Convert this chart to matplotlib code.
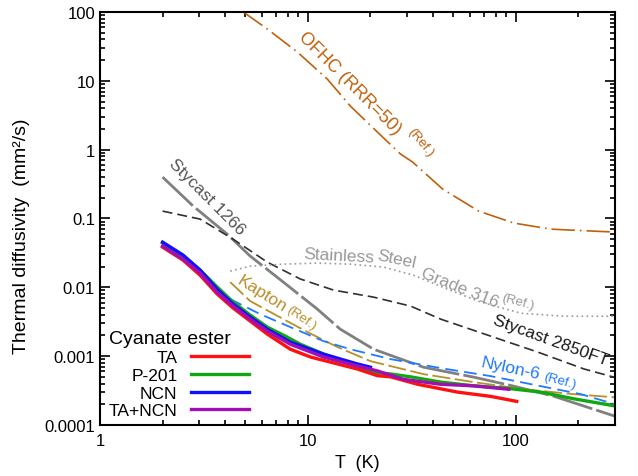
import matplotlib
matplotlib.use("Agg")
import matplotlib.pyplot as plt
from matplotlib.ticker import FixedLocator, LogLocator, NullFormatter
from matplotlib.transforms import offset_copy

plt.rcParams['font.family'] = ['Liberation Sans', 'DejaVu Sans']

# ---------------- data ----------------
# Cyanate ester samples
ta_T = [2.0, 2.51, 3.03, 3.66, 4.37, 5.28, 6.38, 8.23, 10.3, 12.8, 17.3, 21.6, 25.0, 33.7, 52.5, 75.8, 101]
ta_D = [0.0384, 0.0248, 0.0150, 0.0080, 0.00499, 0.00323, 0.00209, 0.00126, 0.00097, 0.00082, 0.00065,
        0.00052, 0.00050, 0.00039, 0.00030, 0.00026, 0.00022]

p201_T = [2.0, 2.51, 3.03, 3.66, 4.37, 5.28, 6.38, 7.62, 9.20, 11.9, 17.3, 20.7, 25.0, 31.2, 43.5, 62.8,
          91.5, 132, 190, 297]
p201_D = [0.0439, 0.0284, 0.0178, 0.0101, 0.0061, 0.00395, 0.00264, 0.00202, 0.00149, 0.00107, 0.00072,
          0.00058, 0.00055, 0.00050, 0.00042, 0.00037, 0.00034, 0.00030, 0.00024, 0.00019]

ncn_T = [2.0, 2.51, 3.03, 3.66, 4.37, 5.28, 6.38, 8.23, 11.9, 17.3, 20.0]
ncn_D = [0.0454, 0.0294, 0.0178, 0.0094, 0.0057, 0.00369, 0.00247, 0.00160, 0.00107, 0.00077, 0.00069]

tancn_T = [2.0, 2.51, 3.03, 3.66, 4.37, 5.28, 6.38, 8.23, 11.9, 17.3, 21.6, 28.8, 43.5, 62.8, 92.5]
tancn_D = [0.0397, 0.0257, 0.0161, 0.0085, 0.00533, 0.00345, 0.00231, 0.00149, 0.00097, 0.00072, 0.00061,
           0.00046, 0.00039, 0.00037, 0.00033]

# Reference materials
ofhc_T = [4.89, 6.38, 8.90, 12.4, 16.0, 21.6, 27.9, 31.9, 44.5, 66.3, 97.8, 147.5, 300]
ofhc_D = [100, 56.6, 26.2, 10.6, 4.30, 1.80, 0.863, 0.66, 0.267, 0.128, 0.0858, 0.070, 0.0634]

st1266_T = [2.0, 2.81, 4.09, 5.28, 7.62, 11.1, 14.3, 20.7, 36.0, 62.8, 97.8, 152, 300]
st1266_D = [0.40, 0.151, 0.0593, 0.0284, 0.0119, 0.00482, 0.00247, 0.00126, 0.00069, 0.000495,
            0.000366, 0.000262, 0.000134]

st2850_T = [2.0, 3.03, 4.37, 6.38, 9.20, 13.3, 20.7, 31.2, 43.5, 75.8, 128, 213, 300]
st2850_D = [0.128, 0.098, 0.050, 0.0232, 0.0132, 0.0091, 0.0072, 0.00533, 0.00345, 0.00195, 0.00114,
            0.00065, 0.00049]

ss316_T = [4.23, 5.28, 7.62, 11.1, 16.0, 23.1, 32.2, 47.0, 67.8, 106, 170, 300]
ss316_D = [0.0172, 0.0203, 0.0217, 0.0225, 0.0217, 0.0197, 0.0150, 0.0094, 0.0061, 0.0042, 0.0038, 0.0038]

kapton_T = [4.23, 5.28, 7.62, 9.95, 13.9, 20.0, 36.0, 62.8, 109, 190, 300]
kapton_D = [0.0119, 0.0063, 0.00345, 0.00224, 0.00135, 0.000846, 0.000547, 0.000419, 0.000331,
            0.00028, 0.000252]

nylon_T = [4.23, 5.90, 8.24, 11.9, 16.0, 25.0, 43.5, 75.8, 132, 206, 300]
nylon_D = [0.00673, 0.00407, 0.00264, 0.00165, 0.00126, 0.000904, 0.00067, 0.000512, 0.000366,
           0.00028, 0.0002]

x_ticks = [1, 10, 100]
x_ticklabels = ["1", "10", "100"]
y_ticks = [0.0001, 0.001, 0.01, 0.1, 1, 10, 100]
y_ticklabels = ["0.0001", "0.001", "0.01", "0.1", "1", "10", "100"]

# ---------------- figure ----------------
fig = plt.figure(figsize=(6.38, 4.77), dpi=100)
ax = fig.add_axes([0.1567, 0.107, 0.8073, 0.8657])

c_ofhc = '#c0600c'
c_1266 = '#808080'
c_2850 = '#303030'
c_ss = '#999999'
c_kap = '#b8902a'
c_nyl = '#1f7aff'

ax.plot(ofhc_T, ofhc_D, color=c_ofhc, lw=1.2, ls=(0, (14, 3, 1, 3)))
ax.plot(st1266_T, st1266_D, color=c_1266, lw=2.0, ls=(0, (15, 1.5)))
ax.plot(st2850_T, st2850_D, color=c_2850, lw=1.2, ls=(0, (6, 3)))
ax.plot(ss316_T, ss316_D, color=c_ss, lw=1.2, ls=(0, (1, 2)))
ax.plot(kapton_T, kapton_D, color=c_kap, lw=1.3, ls=(0, (10, 2.5)))
ax.plot(nylon_T, nylon_D, color=c_nyl, lw=1.3, ls=(0, (7, 3.5)))

ax.plot(p201_T, p201_D, color='#10a810', lw=2.4, label='P-201')
ax.plot(ta_T, ta_D, color='#ff1010', lw=2.4, label='TA')
ax.plot(ncn_T, ncn_D, color='#1010ff', lw=2.4, label='NCN')
ax.plot(tancn_T, tancn_D, color='#a010b0', lw=2.4, label='TA+NCN')

ax.set_xscale('log')
ax.set_yscale('log')
ax.set_xlim(1, 300)
ax.set_ylim(0.0001, 100)

ax.xaxis.set_major_locator(FixedLocator(x_ticks))
ax.set_xticklabels(x_ticklabels)
ax.yaxis.set_major_locator(FixedLocator(y_ticks))
ax.set_yticklabels(y_ticklabels)
ax.xaxis.set_minor_locator(LogLocator(base=10, subs=range(2, 10), numticks=20))
ax.yaxis.set_minor_locator(LogLocator(base=10, subs=range(2, 10), numticks=20))
ax.xaxis.set_minor_formatter(NullFormatter())
ax.yaxis.set_minor_formatter(NullFormatter())
ax.tick_params(which='both', direction='in', top=True, right=True, labelsize=12, width=1.2)
ax.tick_params(which='major', length=7)
ax.tick_params(which='minor', length=3.5)
ax.tick_params(axis='x', pad=6)
for s in ax.spines.values():
    s.set_linewidth(1.5)

ax.set_xlabel('T  (K)', fontsize=13)
ax.set_ylabel('Thermal diffusivity  (mm²/s)', fontsize=14)
ax.yaxis.set_label_coords(-0.136, 0.46)

# annotations (offset slightly above their curves, in points)
def label(x, y, s, color, size, rot, dx, dy):
    tr = offset_copy(ax.transData, fig=fig, x=dx, y=dy, units='points')
    ax.text(x, y, s, color=color, fontsize=size, rotation=rot, transform=tr,
            rotation_mode='anchor', ha='left', va='baseline')

label(8.51, 37.9, 'OFHC (RRR=50)', c_ofhc, 13, -45, 3, 3)
label(28.9, 1.63, '(Ref.)', c_ofhc, 9.5, -50, 3, 3)
label(2.03, 0.541, 'Stycast 1266', '#555555', 12.5, -45, 3, 3)
label(9.51, 0.0240, 'Stainless', c_ss, 12.5, -3, 0, 2)
label(21.4, 0.0232, 'Steel', c_ss, 12.5, -12, 0, 2)
label(34.1, 0.01315, 'Grade 316', c_ss, 12.5, -22, 1, 2)
label(83.7, 0.00589, '(Ref.)', c_ss, 9.5, -15, 1, 2)
label(75.8, 0.00247, 'Stycast 2850FT', '#1a1a1a', 12.5, -20, 1, 4)
label(4.37, 0.0102, 'Kapton', c_kap, 12.5, -32, 2, 3)
label(7.62, 0.00394, '(Ref.)', c_kap, 9.5, -35, 2, 3)
label(67.1, 0.000600, 'Nylon-6', c_nyl, 12.5, -12, 0, 4)
label(135, 0.000379, '(Ref.)', c_nyl, 9.5, -15, 0, 4)

handles, labels = ax.get_legend_handles_labels()
order = [labels.index(l) for l in ['TA', 'P-201', 'NCN', 'TA+NCN']]
leg = ax.legend([handles[i] for i in order], [labels[i] for i in order],
                title='Cyanate ester', title_fontsize=14, fontsize=12.5,
                markerfirst=False, frameon=False, alignment='left',
                loc='lower left', bbox_to_anchor=(0.0, -0.005),
                handlelength=3.3, handletextpad=0.8, labelspacing=0.15,
                borderpad=0.2, borderaxespad=0.3)

fig.savefig('out.png', dpi=100)
